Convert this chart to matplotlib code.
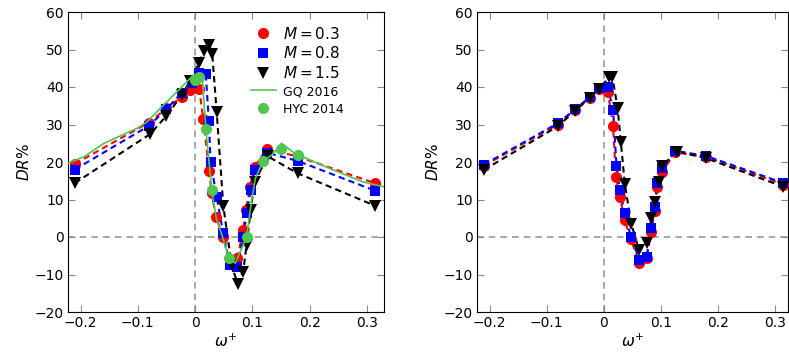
import matplotlib as mpl
mpl.use('Agg')
import matplotlib.pyplot as plt

# ---- data ----
# left panel
w_left_m03 = [-0.21, -0.081, -0.05, -0.023, -0.009, 0.007, 0.0145, 0.0244, 0.029, 0.0365,
              0.049, 0.061, 0.074, 0.084, 0.089, 0.096, 0.104, 0.125, 0.179, 0.315]
dr_left_m03 = [19.5, 30.5, 34.3, 37.4, 39.2, 39.6, 31.4, 17.7, 11.8, 5.4,
               -0.1, -7.0, -5.7, 2.0, 7.2, 13.4, 18.8, 23.4, 21.5, 14.3]

w_left_m08 = [-0.21, -0.081, -0.05, -0.023, -0.006, 0.007, 0.0186, 0.024, 0.027, 0.0377,
              0.049, 0.061, 0.074, 0.084, 0.09, 0.097, 0.104, 0.125, 0.179, 0.315]
dr_left_m08 = [18.0, 29.6, 34.1, 38.5, 41.0, 43.8, 43.6, 31.0, 20.1, 10.7,
               1.1, -7.5, -7.9, -0.1, 6.3, 12.5, 17.9, 22.5, 20.3, 12.3]

w_left_m15 = [-0.21, -0.079, -0.05, -0.023, -0.0087, 0.007, 0.016, 0.025, 0.030, 0.0377,
              0.0493, 0.0638, 0.0742, 0.084, 0.09, 0.097, 0.104, 0.127, 0.179, 0.315]
dr_left_m15 = [14.4, 27.4, 32.3, 37.9, 41.7, 46.5, 49.7, 51.2, 48.8, 33.4,
               8.3, -7.5, -12.4, -9.2, -2.1, 7.2, 14.7, 21.5, 17.0, 8.3]

w_gq = [-0.225, -0.194, -0.159, -0.101, -0.084, -0.055, -0.026, -0.003, 0.012, 0.019,
        0.029, 0.037, 0.048, 0.059, 0.07, 0.08, 0.09, 0.097, 0.105, 0.119,
        0.135, 0.151, 0.174, 0.235, 0.293, 0.335]
dr_gq = [19.5, 21.4, 25.0, 29.0, 30.7, 35.2, 39.6, 43.2, 43.5, 28.7,
         12.5, 5.0, 0.0, -5.7, -7.0, -3.5, -0.1, 8.0, 15.5, 20.3,
         22.0, 25.0, 22.3, 18.3, 14.7, 13.2]

w_hyc = [0.0, 0.007, 0.0186, 0.029, 0.059, 0.09, 0.119, 0.15, 0.179]
dr_hyc = [41.9, 42.6, 28.7, 12.5, -5.7, -0.1, 20.3, 23.4, 22.0]

# right panel
w_right_m03 = [-0.21, -0.081, -0.05, -0.024, -0.008, 0.007, 0.016, 0.021, 0.028, 0.0365,
               0.047, 0.062, 0.0748, 0.083, 0.0887, 0.0933, 0.102, 0.125, 0.179, 0.314]
dr_right_m03 = [19.0, 30.0, 34.0, 37.2, 39.4, 38.6, 29.6, 15.9, 10.6, 4.5,
                -0.6, -6.9, -5.6, 1.4, 7.0, 13.4, 17.4, 22.6, 21.4, 14.0]

w_right_m08 = [-0.21, -0.081, -0.05, -0.024, -0.008, 0.0064, 0.016, 0.022, 0.028, 0.0365,
               0.047, 0.062, 0.0748, 0.083, 0.0887, 0.0933, 0.102, 0.125, 0.179, 0.314]
dr_right_m08 = [19.3, 30.3, 34.1, 37.4, 39.7, 40.1, 34.0, 19.0, 12.5, 6.3,
                0.1, -6.0, -5.2, 2.3, 8.1, 14.3, 18.3, 23.0, 21.6, 14.4]

w_right_m15 = [-0.21, -0.081, -0.05, -0.024, -0.008, 0.009, 0.015, 0.024, 0.0296, 0.0365,
               0.048, 0.0614, 0.0748, 0.083, 0.0887, 0.096, 0.102, 0.127, 0.179, 0.314]
dr_right_m15 = [17.9, 29.5, 33.7, 37.2, 39.6, 42.6, 42.6, 34.3, 25.4, 14.1,
                3.5, -3.5, -1.7, 5.0, 9.4, 14.8, 19.0, 22.8, 21.0, 13.4]

x_ticks = [-0.2, -0.1, 0.0, 0.1, 0.2, 0.3]
x_ticklabels = ['\u22120.2', '\u22120.1', '0', '0.1', '0.2', '0.3']
y_ticks = [-20, -10, 0, 10, 20, 30, 40, 50, 60]

green = '#4fc64f'
dash = (0, (3, 2))


def style_axis(ax, xmax):
    ax.axhline(0, color='#999999', lw=1.2, ls=(0, (4, 3)), zorder=1)
    ax.axvline(0, color='#999999', lw=1.2, ls=(0, (4, 3)), zorder=1)
    ax.set_xlim(-0.222, xmax)
    ax.set_ylim(-20, 60)
    ax.set_xticks(x_ticks)
    ax.set_xticklabels(x_ticklabels)
    ax.set_yticks(y_ticks)
    ax.tick_params(direction='in', length=5, color='#888888', labelsize=10,
                   top=True, right=True, pad=3)
    ax.set_xlabel(r'$\omega^{+}$', fontsize=11, labelpad=2)
    ax.set_ylabel(r'$DR\%$', fontsize=11, labelpad=2)


def draw_series(ax, w, dr, color, marker, ms, label):
    ax.plot(w, dr, ls=dash, color=color, lw=1.5, zorder=2)
    ax.plot(w, dr, ls='none', marker=marker, ms=ms, color=color, mew=0, label=label, zorder=3)


fig = plt.figure(figsize=(7.89, 3.52), dpi=100)
ax0 = fig.add_axes([68 / 789, 40 / 352, 316 / 789, 300 / 352])
ax1 = fig.add_axes([477 / 789, 40 / 352, 311 / 789, 300 / 352])

draw_series(ax0, w_left_m03, dr_left_m03, 'red', 'o', 8, r'$M = 0.3$')
draw_series(ax0, w_left_m08, dr_left_m08, 'blue', 's', 7.5, r'$M = 0.8$')
draw_series(ax0, w_left_m15, dr_left_m15, 'black', 'v', 8.5, r'$M = 1.5$')
ax0.plot(w_gq, dr_gq, color=green, lw=1.2, label='GQ 2016', zorder=3)
ax0.plot(w_hyc, dr_hyc, ls='none', marker='o', ms=8, color=green, mew=0, label='HYC 2014', zorder=4)
style_axis(ax0, 0.33)

leg = ax0.legend(loc='upper left', bbox_to_anchor=(0.56, 0.975), frameon=False,
                 fontsize=11, handlelength=1.6, handletextpad=0.5, labelspacing=0.25,
                 borderaxespad=0, numpoints=1)
for t in leg.get_texts()[3:]:
    t.set_fontsize(9)

draw_series(ax1, w_right_m03, dr_right_m03, 'red', 'o', 8, None)
draw_series(ax1, w_right_m08, dr_right_m08, 'blue', 's', 7.5, None)
draw_series(ax1, w_right_m15, dr_right_m15, 'black', 'v', 8.5, None)
style_axis(ax1, 0.322)

fig.savefig('out.png', dpi=100)
